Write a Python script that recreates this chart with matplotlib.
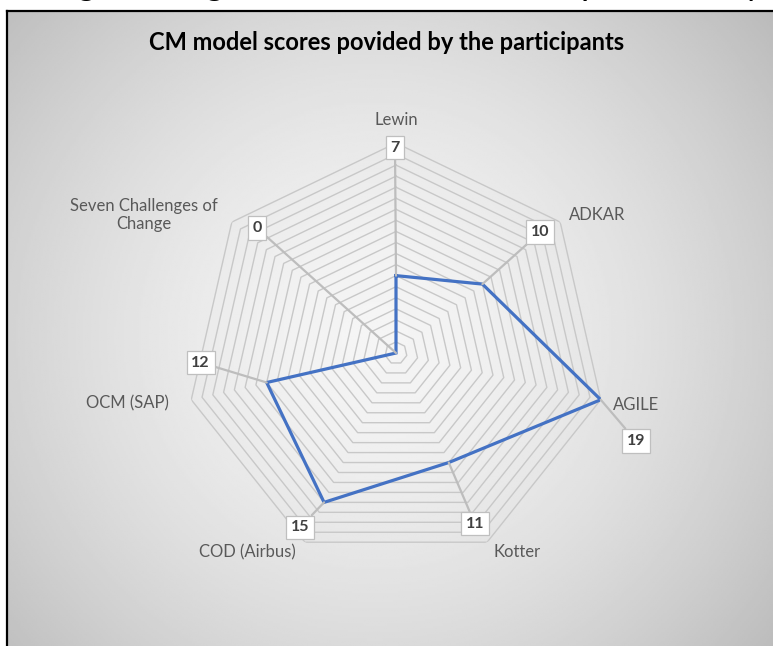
import numpy as np
import matplotlib
matplotlib.use('Agg')
import matplotlib.pyplot as plt

plt.rcParams['font.family'] = ['Lato', 'DejaVu Sans']

# data
categories = ['Lewin', 'ADKAR', 'AGILE', 'Kotter', 'COD (Airbus)', 'OCM (SAP)',
              'Seven Challenges of\nChange']
scores = [7, 10, 19, 11, 15, 12, 0]
ring_max = 19

# label placement (pixel offsets)
cat_offsets = [(0, 23), (37, 7), (35, -5), (30, -10), (-58, -10), (-64, -4), (-88, 7)]
box_offsets = [(-1, 128), (58, 52), (35, -41), (26, -61), (-24, -25), (-66, 20), (-139, 125)]

W, H = 773, 646
fig = plt.figure(figsize=(W / 100, H / 100), dpi=100)
fig.patch.set_facecolor('white')

# radial gradient background of chart area
bg = fig.add_axes([7 / W, -0.02, 1, 1.02 - 11 / H])
yy, xx = np.mgrid[0:300, 0:400]
cx, cy = 190, 150
d = np.sqrt(((xx - cx) / 260.0) ** 2 + ((yy - cy) / 230.0) ** 2)
shade = 0.96 - 0.22 * np.clip(d, 0, 1.3) ** 1.6
bg.imshow(shade, cmap='gray', vmin=0, vmax=1, aspect='auto', extent=[0, 1, 0, 1])
bg.set_xticks([])
bg.set_yticks([])
for s in bg.spines.values():
    s.set_color('black')
    s.set_linewidth(1.6)

# caption of the page, cut off at the top as in the source
fig.text(-2 / W, 1 + 5 / H, 'Change management model scores as provided by the participants',
         fontsize=25, color='black', va='baseline', ha='left')

fig.text(387 / W, 1 - 42 / H, 'CM model scores povided by the participants',
         fontsize=17, fontweight='bold', color='black', ha='center', va='center')

# radar
R = 210
ax = fig.add_axes([(396 - R) / W, (H - 353 - R) / H, 2 * R / W, 2 * R / H], polar=True)
ax.set_theta_zero_location('N')
ax.set_theta_direction(-1)
ax.set_ylim(0, ring_max)
ax.axis('off')
ax.patch.set_alpha(0)

n = len(categories)
theta = np.arange(n) * 2 * np.pi / n
tc = np.append(theta, theta[0])

for r in range(1, ring_max + 1):
    ax.plot(tc, [r] * (n + 1), color='#c8c8c8', lw=1.0, zorder=1)

sc = scores + scores[:1]
ax.plot(tc, sc, color='#4472C4', lw=2.3, zorder=4, solid_joinstyle='miter')

for i in range(n):
    ax.annotate(categories[i], xy=(theta[i], ring_max), xytext=cat_offsets[i],
                textcoords='offset pixels', ha='center', va='center', fontsize=12,
                color='#595959', annotation_clip=False, zorder=5)
    ax.annotate(str(scores[i]), xy=(theta[i], scores[i]), xytext=box_offsets[i],
                textcoords='offset pixels', ha='center', va='center', fontsize=11.5,
                fontweight='bold', color='#404040', annotation_clip=False, zorder=6,
                bbox=dict(boxstyle='square,pad=0.3', fc='white', ec='#bfbfbf', lw=0.9),
                arrowprops=dict(arrowstyle='-', color='#bdbdbd', lw=1.6,
                                shrinkA=0, shrinkB=0))

fig.savefig('out.png', dpi=100)
